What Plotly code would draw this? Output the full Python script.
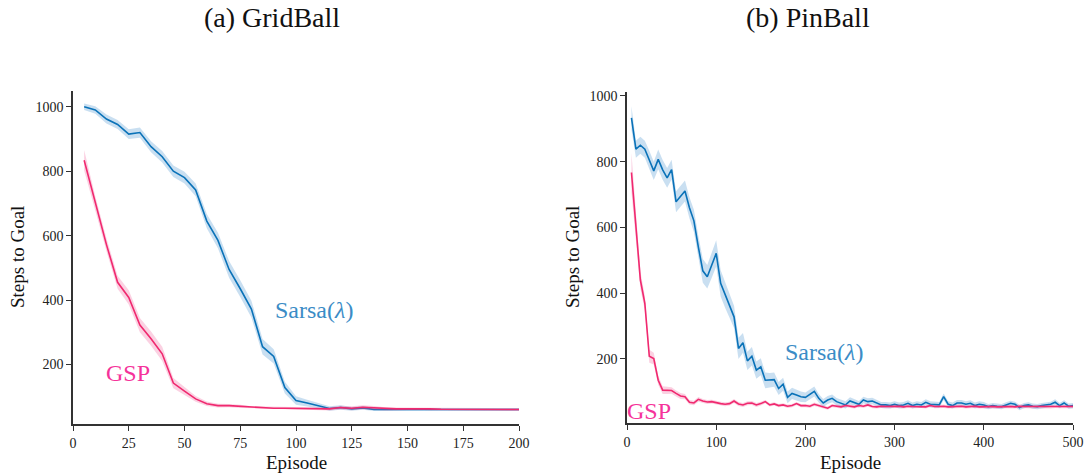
import plotly.graph_objects as go

# ---------------- GridBall ----------------
ep_grid = list(range(5, 201, 5))
sarsa_grid = [1000, 990, 962, 945, 915, 920, 876, 845, 800, 780,
              742, 645, 585, 495, 435, 372, 255, 225, 128, 88,
              80, 72, 63, 66, 62, 65, 60, 60, 60, 60,
              61, 60, 60, 60, 60, 60, 60, 60, 60, 60]
sarsa_grid_sd = [10, 12, 14, 14, 15, 16, 17, 18, 18, 18,
                 20, 22, 24, 26, 26, 26, 24, 22, 18, 13,
                 10, 8, 7, 7, 6, 6, 5, 5, 4, 4,
                 4, 4, 4, 4, 4, 4, 4, 4, 4, 4]
gsp_grid = [834, 700, 572, 455, 408, 322, 280, 233, 142, 117,
            93, 78, 72, 72, 70, 66, 65, 64, 64, 63,
            63, 62, 62, 66, 64, 67, 65, 62, 62, 62,
            63, 62, 61, 61, 61, 61, 61, 60, 60, 60]
gsp_grid_sd = [32, 22, 20, 20, 22, 22, 22, 22, 16, 12,
               9, 7, 6, 5, 5, 4, 4, 4, 4, 4,
               4, 4, 5, 6, 6, 6, 6, 5, 4, 4,
               4, 4, 4, 4, 4, 4, 4, 4, 4, 4]

# ---------------- PinBall ----------------
ep_pin = list(range(5, 501, 5))
sarsa_pin = [933, 838, 850, 838, 805, 772, 807, 775, 751, 776,
             678, 695, 711, 660, 620, 540, 468, 450, 485, 521,
             430, 394, 360, 328, 232, 249, 194, 208, 166, 176,
             135, 135, 137, 110, 123, 83, 95, 90, 85, 83,
             92, 101, 80, 66, 75, 80, 70, 65, 60, 72,
             68, 62, 75, 70, 72, 66, 60, 60, 58, 62,
             58, 60, 65, 58, 62, 60, 68, 62, 60, 60,
             85, 62, 58, 66, 66, 62, 65, 58, 62, 60,
             55, 58, 56, 55, 60, 65, 62, 52, 58, 60,
             56, 55, 58, 60, 62, 68, 58, 66, 56, 58]
sarsa_pin_sd = [36, 26, 26, 26, 28, 28, 30, 30, 30, 30,
                32, 32, 32, 32, 34, 34, 36, 36, 38, 40,
                40, 38, 36, 34, 32, 30, 28, 28, 26, 26,
                24, 22, 22, 20, 20, 18, 17, 16, 16, 15,
                15, 15, 13, 12, 12, 12, 11, 11, 11, 11,
                10, 10, 10, 10, 10, 10, 9, 9, 9, 9,
                9, 9, 9, 9, 9, 9, 9, 9, 9, 9,
                10, 9, 9, 9, 9, 9, 9, 9, 9, 9,
                8, 8, 8, 8, 8, 8, 8, 8, 8, 8,
                8, 8, 8, 8, 8, 9, 8, 8, 8, 8]
gsp_pin = [767, 610, 440, 369, 208, 201, 135, 105, 104, 104,
           95, 87, 85, 68, 66, 77, 72, 69, 70, 66,
           64, 62, 64, 72, 63, 60, 65, 66, 60, 64,
           70, 60, 63, 58, 60, 56, 58, 64, 58, 58,
           56, 62, 58, 55, 50, 58, 56, 54, 58, 55,
           54, 58, 56, 60, 55, 54, 56, 55, 56, 55,
           56, 54, 56, 55, 55, 56, 54, 58, 55, 55,
           56, 54, 55, 55, 56, 54, 55, 56, 54, 55,
           56, 55, 54, 55, 56, 55, 54, 56, 55, 55,
           54, 55, 56, 55, 54, 56, 55, 55, 54, 55]
gsp_pin_sd = [60, 36, 26, 22, 20, 18, 14, 12, 11, 10,
              9, 9, 8, 7, 7, 7, 6, 6, 6, 6,
              6, 6, 6, 6, 6, 6, 6, 6, 6, 6,
              5, 5, 5, 5, 5, 5, 5, 5, 5, 5,
              5, 5, 5, 5, 5, 5, 5, 5, 5, 5,
              5, 5, 5, 5, 5, 5, 5, 5, 5, 5,
              5, 5, 5, 5, 5, 5, 5, 5, 5, 5,
              5, 5, 5, 5, 5, 5, 5, 5, 5, 5,
              5, 5, 5, 5, 5, 5, 5, 5, 5, 5,
              5, 5, 5, 5, 5, 5, 5, 5, 5, 5]

BLUE = "#0a72b8"
BLUE_BAND = "rgba(60,140,205,0.28)"
BLUE_TEXT = "#3b8cc6"
PINK = "#f0296f"
PINK_BAND = "rgba(240,70,140,0.25)"
PINK_TEXT = "#f5339a"
FONT = "Liberation Serif"
AXIS_COLOR = "#333333"

W, H = 1086, 474


def px_x(p):
    return p / W


def px_y(p):
    return 1 - p / H


fig = go.Figure()


def add_series(x, y, sd, color, band, xa, ya):
    upper = [a + b for a, b in zip(y, sd)]
    lower = [a - b for a, b in zip(y, sd)]
    fig.add_trace(go.Scatter(
        x=x + x[::-1], y=upper + lower[::-1], fill="toself",
        fillcolor=band, line=dict(width=0), mode="lines",
        hoverinfo="skip", showlegend=False, xaxis=xa, yaxis=ya))
    fig.add_trace(go.Scatter(
        x=x, y=y, mode="lines", line=dict(color=color, width=1.6),
        showlegend=False, xaxis=xa, yaxis=ya))


add_series(ep_grid, sarsa_grid, sarsa_grid_sd, BLUE, BLUE_BAND, "x", "y")
add_series(ep_grid, gsp_grid, gsp_grid_sd, PINK, PINK_BAND, "x", "y")
add_series(ep_pin, sarsa_pin, sarsa_pin_sd, BLUE, BLUE_BAND, "x2", "y2")
add_series(ep_pin, gsp_pin, gsp_pin_sd, PINK, PINK_BAND, "x2", "y2")

axis_common = dict(
    showline=True, linecolor=AXIS_COLOR, linewidth=1.5,
    ticks="outside", ticklen=5, tickwidth=1.2, tickcolor=AXIS_COLOR,
    showgrid=False, zeroline=False, automargin=False,
    tickfont=dict(family=FONT, size=14, color="#222222"),
)

fig.update_layout(
    width=W, height=H,
    margin=dict(l=0, r=0, t=0, b=0),
    plot_bgcolor="white", paper_bgcolor="white",
    xaxis=dict(domain=[px_x(73), px_x(519)], range=[0, 200],
               tickvals=[0, 25, 50, 75, 100, 125, 150, 175, 200],
               anchor="y", **axis_common),
    yaxis=dict(domain=[px_y(424), px_y(91)], range=[15, 1049],
               tickvals=[200, 400, 600, 800, 1000],
               anchor="x", **axis_common),
    xaxis2=dict(domain=[px_x(627), px_x(1073)], range=[0, 500],
                tickvals=[0, 100, 200, 300, 400, 500],
                anchor="y2", **axis_common),
    yaxis2=dict(domain=[px_y(423), px_y(92)], range=[5, 1012],
                tickvals=[200, 400, 600, 800, 1000],
                anchor="x2", **axis_common),
)

paper_text = [
    ("(a) GridBall", 272, 18, 28, "#111111", 0),
    ("(b) PinBall", 808, 18, 28, "#111111", 0),
    ("Episode", 296, 462, 19, "#111111", 0),
    ("Episode", 850, 462, 19, "#111111", 0),
    ("Steps to Goal", 17, 257, 19, "#111111", -90),
    ("Steps to Goal", 572, 257, 19, "#111111", -90),
]
for text, x, y, size, color, angle in paper_text:
    fig.add_annotation(text=text, xref="paper", yref="paper",
                       x=px_x(x), y=px_y(y), showarrow=False,
                       xanchor="center", yanchor="middle", textangle=angle,
                       font=dict(family=FONT, size=size, color=color))

# Curve labels placed in data coordinates
curve_labels = [
    ("Sarsa(<i>λ</i>)", 108, 368, BLUE_TEXT, "x", "y"),
    ("GSP", 24.7, 172, PINK_TEXT, "x", "y"),
    ("Sarsa(<i>λ</i>)", 221, 220, BLUE_TEXT, "x2", "y2"),
    ("GSP", 25, 41, PINK_TEXT, "x2", "y2"),
]
for text, x, y, color, xa, ya in curve_labels:
    fig.add_annotation(text=text, xref=xa, yref=ya, x=x, y=y,
                       showarrow=False, xanchor="center", yanchor="middle",
                       font=dict(family=FONT, size=24, color=color))

fig.write_html("out.html")
